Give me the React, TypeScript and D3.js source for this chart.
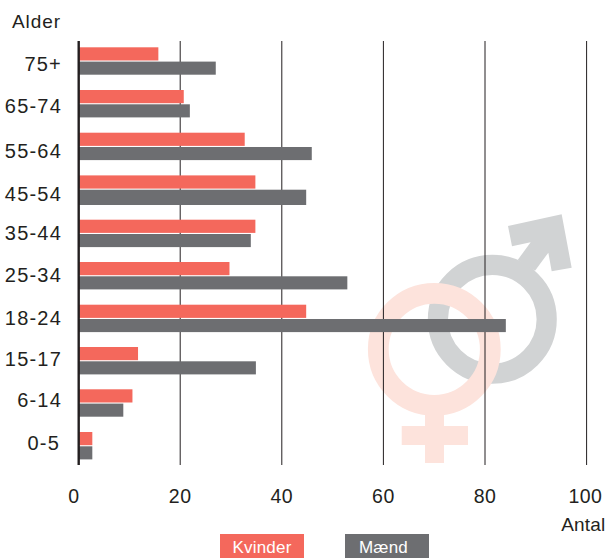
import React from "react";
import * as d3 from "d3";

const categories = ["75+", "65-74", "55-64", "45-54", "35-44", "25-34", "18-24", "15-17", "6-14", "0-5"];
const kvinder = [15.7, 20.7, 32.7, 34.8, 34.8, 29.7, 44.8, 11.7, 10.6, 2.7];
const maend = [27, 21.9, 45.9, 44.8, 33.9, 52.9, 84.1, 34.9, 8.8, 2.7];
const xTicks = [0, 20, 40, 60, 80, 100];
const legendLabels = ["Kvinder", "Mænd"];
const colors = { k: "#f4685c", m: "#6d6e71", kLight: "#fde3dc", mLight: "#d1d3d4", grid: "#231f20" };

// small hand-set layout nudges: the source graphic's rows are not perfectly even
const rowNudge = [0, 0, 0, 0, 1.6, 1.2, 1.2, 0.8, 0.4, 0.4];
const labelNudge = [23.4, 23.3, 25, 26, 22.3, 20.7, 21.3, 20, 18.4, 18.7];

const W = 607, H = 558;
const x = d3.scaleLinear().domain([0, 100]).range([78.6, 586.6]);
const y = d3.scaleBand<string>().domain(categories).range([47.3, 474.3]);
const FONT = "'Liberation Sans', Arial, sans-serif";
const TEXT = "#231f20";

function MaleSymbol() {
  const pts = [[444,78],[605,43],[635,203],[575,214],[565,158],[525,212],[473,180],[512,127],[456,139]]
    .map(([a, b]) => [360 + a / 3, 200 + b / 3]);
  return (
    <g>
      <circle cx={492.3} cy={319.3} r={54.4} fill="none" stroke={colors.mLight} strokeWidth={20.2} />
      <polygon points={pts.map(p => p.join(",")).join(" ")} fill={colors.mLight} />
    </g>
  );
}

function FemaleSymbol() {
  return (
    <g fill={colors.kLight}>
      <circle cx={434.3} cy={349.3} r={56} fill="none" stroke={colors.kLight} strokeWidth={20.8} />
      <rect x={425} y={410} width={19} height={53} />
      <rect x={401.7} y={426} width={66.3} height={19} />
    </g>
  );
}

export default function App() {
  return (
    <svg width={W} height={H} style={{ position: "absolute", left: 0, top: 0 }} fontFamily={FONT}>
      <MaleSymbol />
      <FemaleSymbol />
      {xTicks.slice(1).map(t => (
        <line key={t} x1={x(t)} x2={x(t)} y1={41} y2={465} stroke={colors.grid} strokeWidth={1} />
      ))}
      {categories.map((c, i) => {
        const top = y(c)! + rowNudge[i];
        return (
          <g key={c}>
            <rect x={x(0)} y={top} width={x(kvinder[i]) - x(0)} height={13.2} fill={colors.k} />
            <rect x={x(0)} y={top + 14.3} width={x(maend[i]) - x(0)} height={i === 3 ? 15.3 : 13.1} fill={colors.m} />
            <text x={i === 9 ? 60 : 62} y={y(c)! + labelNudge[i]} textAnchor="end" fontSize={20} letterSpacing={1.2} fill={TEXT}>{c}</text>
          </g>
        );
      })}
      <line x1={78.7} x2={78.7} y1={41} y2={465} stroke={colors.grid} strokeWidth={2.4} />
      {xTicks.map(t => (
        <text key={t} x={t === 0 ? 74 : x(t) - (t === 100 ? 1.2 : 0)} y={503} textAnchor="middle" fontSize={19.5} letterSpacing={0.5} fill={TEXT}>{t}</text>
      ))}
      <text x={12} y={27.5} fontSize={19} letterSpacing={0.9} fill={TEXT}>Alder</text>
      <text x={605.5} y={530.7} textAnchor="end" fontSize={19} letterSpacing={0.2} fill={TEXT}>Antal</text>
      {legendLabels.map((l, i) => (
        <g key={l}>
          <rect x={[220, 345][i]} y={534} width={84} height={24} fill={[colors.k, colors.m][i]} />
          <text x={[232.5, 359][i]} y={553.3} fontSize={17} letterSpacing={0.2} fill="#fff">{l}</text>
        </g>
      ))}
    </svg>
  );
}
